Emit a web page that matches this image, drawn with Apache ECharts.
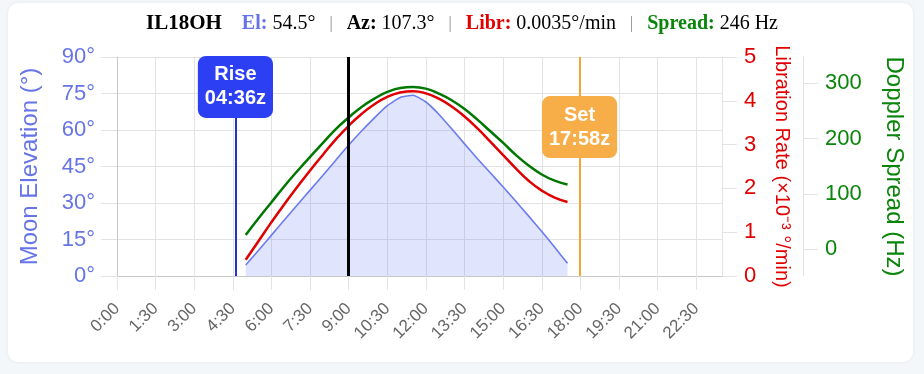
<!DOCTYPE html>
<html>
<head>
<meta charset="utf-8">
<script src="https://cdn.jsdelivr.net/npm/echarts@6/dist/echarts.min.js"></script>
<style>
  html, body { margin: 0; padding: 0; width: 924px; height: 374px; background: #f3f7f9; overflow: hidden; }
  #card { position: absolute; left: 8px; top: 3px; width: 905px; height: 359px; background: #fff; border-radius: 10px; box-shadow: 0 0 4px rgba(0,0,0,0.06); }
  #chart { position: absolute; left: 0; top: 0; width: 924px; height: 374px; }
</style>
</head>
<body>
<div id="card"></div>
<div id="chart"></div>
<script>
// ---- data ----
const times = [5.0, 5.5, 6.0, 6.5, 7.0, 7.5, 8.0, 8.5, 9.0, 9.5, 10.0, 10.5, 11.0, 11.5,
               12.0, 12.5, 13.0, 13.5, 14.0, 14.5, 15.0, 15.5, 16.0, 16.5, 17.0, 17.5];
const elevation = [4.5, 10.6, 16.8, 23.0, 29.2, 35.3, 41.4, 47.6, 53.8, 59.6, 65.0, 70.0, 73.4, 74.3,
                   71.5, 66.5, 60.5, 54.3, 48.2, 42.4, 36.6, 30.6, 24.5, 18.3, 11.8, 5.2];
const libration = [0.37, 0.80, 1.23, 1.64, 2.03, 2.41, 2.77, 3.12, 3.43, 3.70, 3.92, 4.09, 4.19, 4.22,
                   4.17, 4.05, 3.87, 3.64, 3.37, 3.07, 2.76, 2.45, 2.17, 1.95, 1.79, 1.69];
const spread = [26, 56, 85, 114, 141, 167, 192, 217, 238, 257, 272, 284, 291, 293,
                290, 281, 269, 253, 234, 213, 192, 170, 151, 135, 124, 117];
const spreadTicks = [0, 100, 200, 300];
const riseHour = 4.6;      // 04:36z
const setHour = 17.967;    // 17:58z
const nowHour = 9.0;
const riseLabel = 'Rise\n04:36z';
const setLabel = 'Set\n17:58z';
const riseBoxEl = 77.7;
const setBoxEl = 61.2;
const titleParts = { station: 'IL18OH', el: '54.5°', az: '107.3°', libr: '0.0035°/min', spread: '246 Hz' };

const BLUE = '#6674e6';
const RED = '#e00000';
const GREEN = '#0a850a';
const GRID = '#e3e3e3';
const sans = "'Liberation Sans', Arial, Helvetica, sans-serif";
const serif = "'Liberation Serif', 'Times New Roman', serif";

function pair(xs, ys) { return xs.map((x, i) => [x, ys[i]]); }
function fmtTime(v) {
  const h = Math.floor(v + 1e-9);
  const m = Math.round((v - h) * 60);
  return h + ':' + (m < 10 ? '0' : '') + m;
}

const chart = echarts.init(document.getElementById('chart'), null, { renderer: 'canvas' });
chart.setOption({
  animation: false,
  backgroundColor: 'transparent',
  title: {
    left: 'center',
    top: 8,
    text: '{id|' + titleParts.station + '}{elL|El:}{v| ' + titleParts.el + '}{sep||}{k|Az:}{v| ' + titleParts.az +
          '}{sep||}{lb|Libr:}{v| ' + titleParts.libr + '}{sep||}{sp|Spread:}{v| ' + titleParts.spread + '}',
    textStyle: {
      fontFamily: serif, fontSize: 20, color: '#000', fontWeight: 'normal',
      rich: {
        id: { fontFamily: serif, fontSize: 21, fontWeight: 'bold', color: '#000', padding: [0, 20, 0, 0] },
        elL: { fontFamily: serif, fontSize: 20, fontWeight: 'bold', color: BLUE },
        k: { fontFamily: serif, fontSize: 20, fontWeight: 'bold', color: '#000' },
        lb: { fontFamily: serif, fontSize: 20, fontWeight: 'bold', color: RED },
        sp: { fontFamily: serif, fontSize: 20, fontWeight: 'bold', color: GREEN },
        v: { fontFamily: serif, fontSize: 20, fontWeight: 'normal', color: '#000' },
        sep: { fontFamily: serif, fontSize: 16, fontWeight: 'normal', color: '#888', padding: [0, 14, 0, 14] }
      }
    }
  },
  grid: { left: 117, right: 202, top: 57, bottom: 98, containLabel: false, outerBoundsMode: 'none' },
  xAxis: {
    type: 'value', min: 0, max: 23.5, interval: 1.5,
    axisLine: { show: true, lineStyle: { color: '#c8c8c8' } },
    axisTick: { show: true, length: 14, lineStyle: { color: GRID } },
    splitLine: { show: true, lineStyle: { color: GRID } },
    axisLabel: { rotate: 45, margin: 30, color: '#666', fontFamily: sans, fontSize: 17, formatter: fmtTime, showMaxLabel: false }
  },
  yAxis: [
    {
      type: 'value', min: 0, max: 90, interval: 15, position: 'left',
      name: 'Moon Elevation (°)', nameLocation: 'middle', nameGap: 75,
      nameTextStyle: { color: BLUE, fontFamily: sans, fontSize: 24 },
      axisLine: { show: true, lineStyle: { color: '#c8c8c8' } },
      axisTick: { show: true, length: 16, lineStyle: { color: GRID } },
      splitLine: { show: true, lineStyle: { color: GRID } },
      axisLabel: { color: BLUE, fontFamily: sans, fontSize: 22, margin: 22, formatter: '{value}°' }
    },
    {
      type: 'value', min: 0, max: 5, interval: 1, position: 'right',
      name: 'Libration Rate (×10⁻³ °/min)', nameLocation: 'middle', nameGap: 50, nameRotate: -90,
      nameTextStyle: { color: RED, fontFamily: sans, fontSize: 20 },
      axisLine: { show: true, lineStyle: { color: GRID } },
      axisTick: { show: true, length: 15, lineStyle: { color: GRID } },
      splitLine: { show: false },
      axisLabel: { color: RED, fontFamily: sans, fontSize: 22, margin: 22 }
    },
    {
      type: 'value', min: -48, max: 347, position: 'right', offset: 81,
      name: 'Doppler Spread (Hz)', nameLocation: 'middle', nameGap: 79, nameRotate: -90,
      nameTextStyle: { color: GREEN, fontFamily: sans, fontSize: 24 },
      axisLine: { show: true, lineStyle: { color: GRID } },
      axisTick: { show: true, length: 15, lineStyle: { color: GRID }, customValues: spreadTicks },
      splitLine: { show: false },
      axisLabel: { color: GREEN, fontFamily: sans, fontSize: 22, margin: 22, customValues: spreadTicks }
    }
  ],
  series: [
    {
      name: 'Elevation', type: 'line', yAxisIndex: 0, data: pair(times, elevation),
      symbol: 'none', smooth: 0.15,
      lineStyle: { color: '#6a7cf0', width: 1.6 },
      areaStyle: { color: 'rgba(80,100,240,0.25)', origin: 'start' },
      z: 2
    },
    {
      name: 'Libration', type: 'line', yAxisIndex: 1, data: pair(times, libration),
      symbol: 'none', smooth: true,
      lineStyle: { color: RED, width: 2.5 }, z: 3
    },
    {
      name: 'Spread', type: 'line', yAxisIndex: 2, data: pair(times, spread),
      symbol: 'none', smooth: true,
      lineStyle: { color: '#007800', width: 2.5 }, z: 4
    },
    {
      name: 'Markers', type: 'line', yAxisIndex: 0, data: [], z: 5,
      markLine: {
        silent: true, symbol: ['none', 'none'], label: { show: false }, animation: false,
        data: [
          { xAxis: riseHour, lineStyle: { color: '#2233cc', width: 2, type: 'solid' } },
          { xAxis: setHour, lineStyle: { color: '#f2a532', width: 2, type: 'solid' } },
          { xAxis: nowHour, lineStyle: { color: '#000', width: 3, type: 'solid' } }
        ]
      },
      markPoint: {
        silent: true, symbol: 'rect', symbolSize: 0, animation: false,
        data: [
          { coord: [riseHour, riseBoxEl], label: { show: true, position: 'inside', formatter: riseLabel,
            color: '#fff', fontFamily: sans, fontWeight: 'bold', fontSize: 20, lineHeight: 24,
            backgroundColor: '#2d3ff2', borderRadius: 8, padding: [7, 7, 7, 7], align: 'center' } },
          { coord: [setHour, setBoxEl], label: { show: true, position: 'inside', formatter: setLabel,
            color: '#fff', fontFamily: sans, fontWeight: 'bold', fontSize: 20, lineHeight: 24,
            backgroundColor: '#f8ae48', borderRadius: 8, padding: [7, 7, 7, 7], align: 'center' } }
        ]
      }
    }
  ]
});
</script>
</body>
</html>
